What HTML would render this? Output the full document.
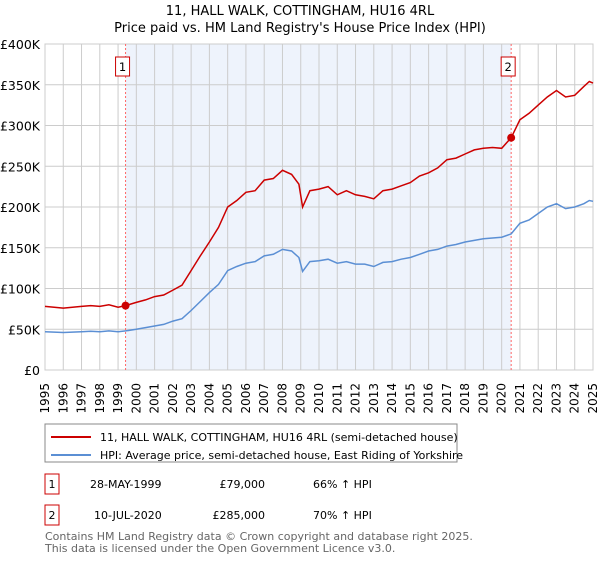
<!DOCTYPE html>
<html><head><meta charset="utf-8"><style>
body{margin:0;background:#fff;font-family:"DejaVu Sans","Liberation Sans",sans-serif;}
svg text{font-family:"DejaVu Sans","Liberation Sans",sans-serif;}
</style></head><body>
<svg id="c" width="600" height="560" xmlns="http://www.w3.org/2000/svg">
<text x="300" y="15" text-anchor="middle" font-size="13">11, HALL WALK, COTTINGHAM, HU16 4RL</text>
<text x="300" y="32" text-anchor="middle" font-size="13">Price paid vs. HM Land Registry's House Price Index (HPI)</text>
<g id="plot"></g>
<g>
<rect x="45" y="424" width="412" height="38" fill="#fff" stroke="#888"/>
<line x1="51" y1="437" x2="91" y2="437" stroke="#cc0000" stroke-width="2"/>
<text x="100" y="441" font-size="11">11, HALL WALK, COTTINGHAM, HU16 4RL (semi-detached house)</text>
<line x1="51" y1="455" x2="91" y2="455" stroke="#5b8fd4" stroke-width="2"/>
<text x="100" y="459" font-size="11">HPI: Average price, semi-detached house, East Riding of Yorkshire</text>
</g>
<g font-size="11">
<rect x="45" y="474" width="14" height="20" fill="#fff" stroke="#cc0000"/>
<text x="52" y="488" text-anchor="middle">1</text>
<text x="90" y="488">28-MAY-1999</text>
<text x="265" y="488" text-anchor="end">£79,000</text>
<text x="313" y="488">66% ↑ HPI</text>
<rect x="45" y="505" width="14" height="20" fill="#fff" stroke="#cc0000"/>
<text x="52" y="519" text-anchor="middle">2</text>
<text x="94" y="519">10-JUL-2020</text>
<text x="265" y="519" text-anchor="end">£285,000</text>
<text x="313" y="519">70% ↑ HPI</text>
</g>
<text x="45" y="540" font-size="11" fill="#666">Contains HM Land Registry data © Crown copyright and database right 2025.</text>
<text x="45" y="552" font-size="11" fill="#666">This data is licensed under the Open Government Licence v3.0.</text>
</svg>
<script>
const yearsT=[1995,1996,1997,1997.5,1998,1998.5,1999,1999.41,2000,2000.5,2001,2001.5,2002,2002.5,2003,2003.5,2004,2004.5,2005,2005.5,2006,2006.5,2007,2007.5,2008,2008.5,2008.9,2009.1,2009.5,2010,2010.5,2011,2011.5,2012,2012.5,2013,2013.5,2014,2014.5,2015,2015.5,2016,2016.5,2017,2017.5,2018,2018.5,2019,2019.5,2020,2020.52,2021,2021.5,2022,2022.5,2023,2023.5,2024,2024.5,2024.8,2025];
const hpiValues=[47,46,47,47.5,47,48,47,48,50,52,54,56,60,63,73,84,95,105,122,127,131,133,140,142,148,146,138,121,133,134,136,131,133,130,130,127,132,133,136,138,142,146,148,152,154,157,159,161,162,163,167,180,184,192,200,204,198,200,204,208,207];
const priceValues=[78,76,78,79,78,80,77,79,83,86,90,92,98,104,122,140,157,175,200,208,218,220,233,235,245,240,228,200,220,222,225,215,220,215,213,210,220,222,226,230,238,242,248,258,260,265,270,272,273,272,285,307,315,325,335,343,335,337,348,354,352];
const yTicks=[0,50,100,150,200,250,300,350,400];
const yTickLabels=["£0","£50K","£100K","£150K","£200K","£250K","£300K","£350K","£400K"];
const xTicks=[1995,1996,1997,1998,1999,2000,2001,2002,2003,2004,2005,2006,2007,2008,2009,2010,2011,2012,2013,2014,2015,2016,2017,2018,2019,2020,2021,2022,2023,2024,2025];
const saleYears=[1999.41,2020.52];
const salePrices=[79,285];
const saleLabels=["1","2"];

const L=45,R=593,T=44,B=370;
const x=v=>L+(v-1995)/30*(R-L);
const y=v=>B-v/400*(B-T);
const NS="http://www.w3.org/2000/svg";
const g=document.getElementById('plot');
function mk(t,a){const e=document.createElementNS(NS,t);for(const k in a)e.setAttribute(k,a[k]);g.appendChild(e);return e;}
let e=mk('rect',{x:x(saleYears[0]),y:T,width:x(saleYears[1])-x(saleYears[0]),height:B-T,fill:'#eef3fc'});


xTicks.forEach(v=>{
 let l=mk('line',{x1:x(v),x2:x(v),y1:T,y2:B,stroke:'#cccccc','stroke-width':1});
 
 
 let t=mk('text',{x:0,y:0,'font-size':12,'text-anchor':'end',transform:`translate(${x(v)+4},${B+13}) rotate(-90)`});
 t.textContent=v;
 
 
});
yTicks.forEach((v,i)=>{
 let l=mk('line',{x1:L,x2:R,y1:y(v),y2:y(v),stroke:'#cccccc','stroke-width':1});
 
 
 let t=mk('text',{x:L-5,y:y(v)+5,'font-size':12.5,'text-anchor':'end'});
 t.textContent=yTickLabels[i];
 
 
});
e=mk('rect',{x:L,y:T,width:R-L,height:B-T,fill:'none',stroke:'#cccccc'});


saleYears.forEach((s,i)=>{
 let l=mk('line',{x1:x(s),x2:x(s),y1:T,y2:B,stroke:'#ff6666','stroke-dasharray':'2,2'});
 
 
 let bx=x(s)-9;
 let r=mk('rect',{x:bx-1,y:57,width:14,height:19,fill:'#fff',stroke:'#cc0000'});
 
 
 let t=mk('text',{x:bx+6,y:71,'font-size':11.5,'text-anchor':'middle'});
 t.textContent=saleLabels[i];
 
 
});
const pts=(vals)=>yearsT.map((v,i)=>x(v).toFixed(1)+','+y(vals[i]).toFixed(1)).join(' ');
e=mk('polyline',{points:pts(hpiValues),fill:'none',stroke:'#5b8fd4','stroke-width':1.5});


e=mk('polyline',{points:pts(priceValues),fill:'none',stroke:'#cc0000','stroke-width':1.5});


saleYears.forEach((s,i)=>{
 let c=mk('circle',{cx:x(s),cy:y(salePrices[i]),r:4,fill:'#cc0000'});
 
 
});
</script>
</body></html>
